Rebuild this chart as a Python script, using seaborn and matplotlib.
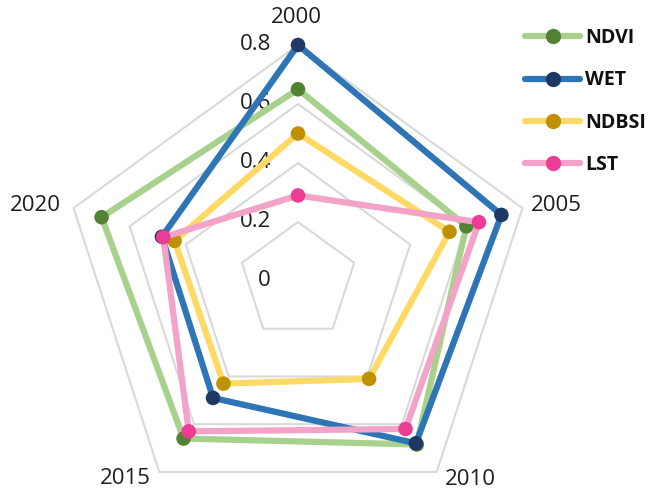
import numpy as np
import pandas as pd
import matplotlib
matplotlib.use("Agg")
import matplotlib.pyplot as plt
from matplotlib.lines import Line2D
import seaborn as sns

# Categories (years) and index values per series
years = ["2000", "2005", "2010", "2015", "2020"]
ndvi = [0.65, 0.60, 0.685, 0.66, 0.70]
wet = [0.80, 0.725, 0.68, 0.49, 0.485]
ndbsi = [0.50, 0.54, 0.41, 0.43, 0.44]
lst = [0.29, 0.645, 0.62, 0.63, 0.48]
series_names = ["NDVI", "WET", "NDBSI", "LST"]
ring_levels = [0.2, 0.4, 0.6, 0.8]
ring_labels = ["0", "0.2", "0.4", "0.6", "0.8"]

line_colors = ["#A9D18E", "#2E75B6", "#FFD966", "#F4A3C8"]
marker_colors = ["#548235", "#1F3864", "#BF9000", "#EC3D96"]
text_color = "#1E1E1E"

sns.set_theme(style="white")
plt.rcParams["font.family"] = ["Open Sans", "DejaVu Sans"]

fig = plt.figure(figsize=(6.49, 4.96), dpi=100)
ax = fig.add_axes([62 / 649, 1 - 517 / 496, 472 / 649, 472 / 496], projection="polar")
ax.set_theta_offset(np.pi / 2)
ax.set_theta_direction(-1)
ax.set_ylim(0, 0.8)
ax.grid(False)
ax.spines["polar"].set_visible(False)
ax.set_xticks([])
ax.set_yticks([])
ax.set_facecolor("none")

n = len(years)
theta = np.arange(n) * 2 * np.pi / n
theta_closed = np.append(theta, theta[0] + 2 * np.pi)

# Pentagon gridlines
for lvl in ring_levels:
    ax.plot(theta_closed, [lvl] * (n + 1), color="#D9D9D9", lw=1.5, zorder=1,
            clip_on=False)

# Radial value labels along the top axis
for i, lab in enumerate(ring_labels):
    ax.annotate(lab, xy=(0, i * 0.2), xytext=(-19.5, 0), textcoords="offset points",
                ha="right", va="center", fontsize=16, color=text_color,
                annotation_clip=False)

# Category labels just outside each vertex
label_offsets = [(-1.4, 20), (24.5, 2.2), (24.5, -5.8), (-24.5, -5), (-27.4, 2.2)]
for t, yr, off in zip(theta, years, label_offsets):
    ax.annotate(yr, xy=(t, 0.8), xytext=off, textcoords="offset points",
                ha="center", va="center", fontsize=16, color=text_color,
                annotation_clip=False)

values = [ndvi, wet, ndbsi, lst]
for k, (name, vals) in enumerate(zip(series_names, values)):
    df = pd.DataFrame({"theta": theta_closed, "value": list(vals) + [vals[0]]})
    sns.lineplot(data=df, x="theta", y="value", sort=False, estimator=None,
                 color=line_colors[k], lw=4.5, ax=ax, zorder=3 + 2 * k,
                 clip_on=False)
    sns.scatterplot(data=df.iloc[:n], x="theta", y="value", color=marker_colors[k],
                    s=110, edgecolor="none", ax=ax, zorder=4 + 2 * k, clip_on=False)

ax.set_xlabel("")
ax.set_ylabel("")
if ax.get_legend() is not None:
    ax.get_legend().remove()

handles = [Line2D([0], [0], color=lc, lw=4.5, marker="o", markersize=10,
                  markerfacecolor=mc, markeredgecolor=mc)
           for lc, mc in zip(line_colors, marker_colors)]
leg = fig.legend(handles, series_names, loc="upper left",
                 bbox_to_anchor=(525 / 649, 1 - 28 / 496), frameon=False,
                 prop={"weight": "bold", "size": 14}, handlelength=2.83,
                 handletextpad=0.26, labelspacing=1.15, borderpad=0, borderaxespad=0)
for txt in leg.get_texts():
    txt.set_color("#111111")

fig.savefig("out.png", dpi=100, facecolor="white")
